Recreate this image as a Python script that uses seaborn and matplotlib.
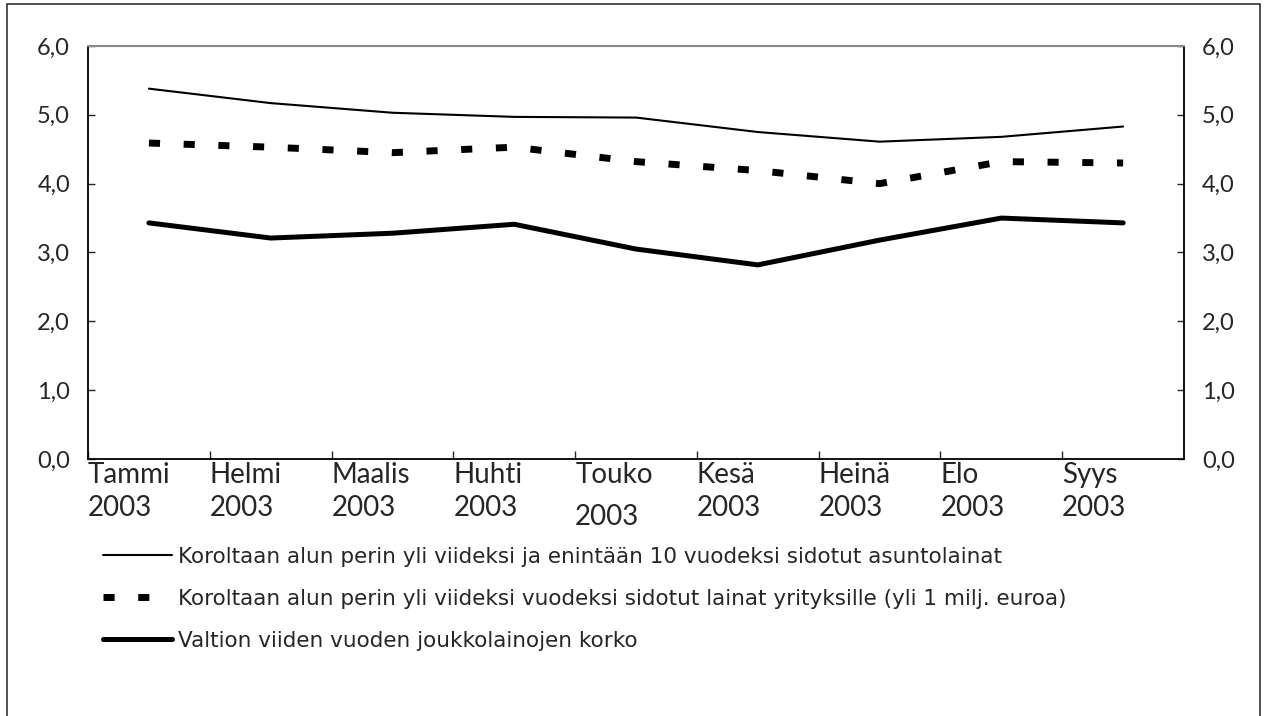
import numpy as np
import pandas as pd
import seaborn as sns
import matplotlib.pyplot as plt
from matplotlib.patches import Rectangle

# kuukaudet ja korot (%)
months = ['Tammi', 'Helmi', 'Maalis', 'Huhti', 'Touko', 'Kesä', 'Heinä', 'Elo', 'Syys']
year = '2003'
asuntolainat = [5.38, 5.17, 5.03, 4.97, 4.96, 4.75, 4.61, 4.68, 4.83]
yrityslainat = [4.59, 4.53, 4.45, 4.53, 4.32, 4.19, 4.00, 4.32, 4.30]
valtio = [3.43, 3.21, 3.28, 3.41, 3.05, 2.82, 3.18, 3.50, 3.43]
yticks = [0, 1, 2, 3, 4, 5, 6]

labels = [
    'Koroltaan alun perin yli viideksi ja enintään 10 vuodeksi sidotut asuntolainat',
    'Koroltaan alun perin yli viideksi vuodeksi sidotut lainat yrityksille (yli 1 milj. euroa)',
    'Valtion viiden vuoden joukkolainojen korko',
]

df = pd.DataFrame({
    'pos': np.arange(len(months)),
    'asunto': asuntolainat,
    'yritys': yrityslainat,
    'valtio': valtio,
})

sns.set_style('ticks')
plt.rcParams['font.family'] = ['Lato', 'DejaVu Sans']

fig = plt.figure(figsize=(12.67, 7.16), dpi=100)
ax = fig.add_axes([0.0695, 0.3589, 0.865, 0.5769])

sns.lineplot(data=df, x='pos', y='asunto', ax=ax, color='black', lw=1.5, label=labels[0])
sns.lineplot(data=df, x='pos', y='yritys', ax=ax, color='black', lw=5,
             linestyle=(0, (1.6, 3.4)), dash_capstyle='butt', label=labels[1])
sns.lineplot(data=df, x='pos', y='valtio', ax=ax, color='black', lw=3.6, label=labels[2])

ax.set_xlim(-0.5, len(months) - 0.5)
ax.set_ylim(0, 6)
ax.set_yticks(yticks)
ax.set_yticklabels([f'{v:.1f}'.replace('.', ',') for v in yticks])
ax.set_xticks(np.arange(len(months)) - 0.5)
ax.set_xticklabels([f'{m}\n{year}' for m in months], ha='left', linespacing=1.35)
ax.get_xticklabels()[4].set_linespacing(1.75)
ax.set_xlabel('')
ax.set_ylabel('')

ax.tick_params(axis='x', direction='in', length=6, width=1, pad=2, labelsize=20)
ax.tick_params(axis='y', direction='in', length=5, width=1, labelsize=17,
               left=True, right=True, labelleft=True, labelright=True, pad=13)

for side in ['left', 'right', 'bottom']:
    ax.spines[side].set_visible(True)
    ax.spines[side].set_color('black')
    ax.spines[side].set_linewidth(1.3)
ax.spines['top'].set_visible(True)
ax.spines['top'].set_color('#8a8a8a')
ax.spines['top'].set_linewidth(1.5)

leg = ax.legend(loc='upper left', bbox_to_anchor=(0.006, -0.192), frameon=False,
                prop={'family': ['DejaVu Sans'], 'size': 15.5},
                handlelength=3.2, handletextpad=0.25, labelspacing=1.02,
                borderaxespad=0)

# kehys kuvan ympärillä
fig.patches.append(Rectangle((7 / 1267, -0.01), 1253 / 1267, 1 - 4 / 716 + 0.01,
                             transform=fig.transFigure, fill=False,
                             edgecolor='#222222', linewidth=1.1))

fig.savefig('out.png', dpi=100)
